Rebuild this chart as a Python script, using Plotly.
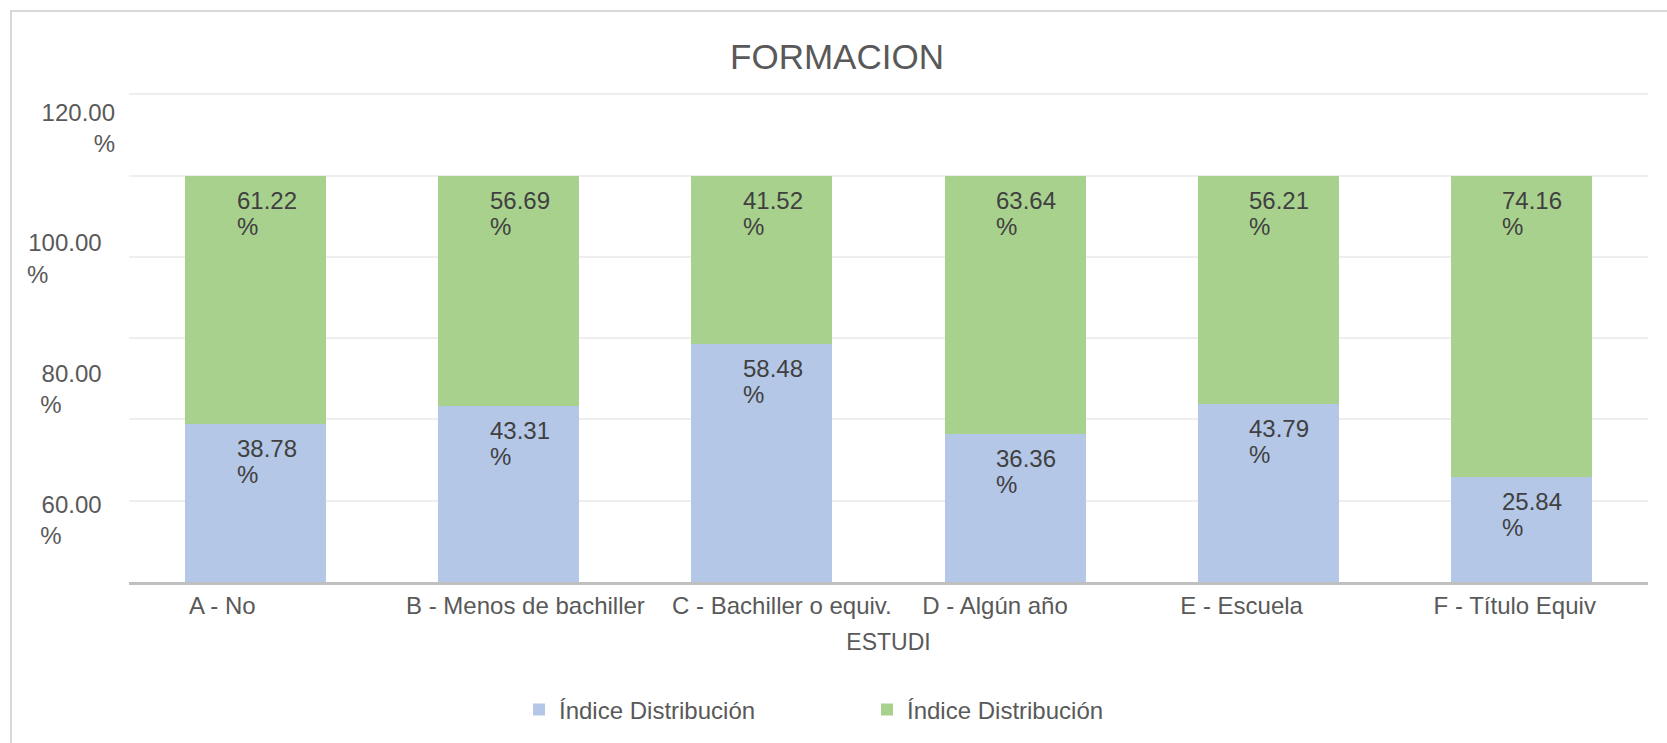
import plotly.graph_objects as go

categories = ["A - No", "B - Menos de bachiller", "C - Bachiller o equiv.",
              "D - Algún año", "E - Escuela", "F - Título Equiv"]
serie_azul = [38.78, 43.31, 58.48, 36.36, 43.79, 25.84]
serie_verde = [61.22, 56.69, 41.52, 63.64, 56.21, 74.16]
series_names = ["Índice Distribución", "Índice Distribución"]
y_tick_values = [60, 80, 100, 120]
y_tick_labels = ["60.00 %", "80.00 %", "100.00 %", "120.00 %"]
grid_values = [0, 20, 40, 60, 80, 100, 120]

NB = "\u00a0"
# label padding (non-breaking spaces) to mimic the original label placement
pad_before = [0, 5, 6, 0, 0, 0]
pad_after = [10, 0, 0, 6, 8, 2]
tick_text = [NB * b + c + NB * a for c, b, a in zip(categories, pad_before, pad_after)]

# y labels: number on first line, "%" on second line (left aligned except the top one)
y_num_pad = [2, 2, 2, 0]
y_pct_pad = [8, 8, 10, 0]
y_tick_text = []
for lab, npad, ppad in zip(y_tick_labels, y_num_pad, y_pct_pad):
    num, pct = lab.split(" ")
    y_tick_text.append(num + NB * npad + "<br>" + pct + NB * ppad)

BLUE = "#b4c7e7"
GREEN = "#a9d18e"
TXT = "#595959"
LBL = "#404040"
FONT = "Liberation Sans, Arial, sans-serif"

fig = go.Figure()
fig.add_trace(go.Bar(x=categories, y=serie_azul, name=series_names[0],
                     marker=dict(color=BLUE, line=dict(width=0))))
fig.add_trace(go.Bar(x=categories, y=serie_verde, name=series_names[1],
                     marker=dict(color=GREEN, line=dict(width=0))))
# carrier for the secondary (label) axis, draws nothing
fig.add_trace(go.Scatter(x=[categories[0]], y=[None], yaxis="y2", mode="markers",
                         showlegend=False, hoverinfo="skip"))

annotations = []
for i, cat in enumerate(categories):
    bases = [0, serie_azul[i]]
    vals = [serie_azul[i], serie_verde[i]]
    for b, v in zip(bases, vals):
        top = b + v
        annotations.append(dict(x=cat, y=top, xref="x", yref="y", text=f"{v:.2f}",
                                showarrow=False, xanchor="left", yanchor="top",
                                xshift=-21, yshift=-9,
                                font=dict(family=FONT, size=24, color=LBL)))
        annotations.append(dict(x=cat, y=top, xref="x", yref="y", text="%",
                                showarrow=False, xanchor="left", yanchor="top",
                                xshift=-21, yshift=-35,
                                font=dict(family=FONT, size=24, color=LBL)))

fig.update_layout(
    width=1667, height=743,
    paper_bgcolor="white", plot_bgcolor="white",
    barmode="stack", bargap=0.443,
    margin=dict(l=129, r=19, t=92, b=161, autoexpand=False),
    title=dict(text="FORMACION", x=837 / 1667, xref="container", xanchor="center",
               y=1 - 57 / 743, yref="container", yanchor="middle",
               font=dict(family=FONT, size=35, color=TXT)),
    xaxis=dict(showline=True, linecolor="#bfbfbf", linewidth=2.5, showgrid=False,
               ticks="", tickvals=categories, ticktext=tick_text, tickangle=0,
               tickfont=dict(family=FONT, size=24, color=TXT),
               title=dict(text="ESTUDI", font=dict(family=FONT, size=23, color=TXT), standoff=17)),
    yaxis=dict(range=[0, 120.6], showgrid=True, gridcolor="#eeeeee", gridwidth=1.5,
               tickvals=grid_values, showticklabels=False,
               zeroline=False, showline=False, ticks=""),
    yaxis2=dict(overlaying="y", anchor="x", side="left", range=[50.5, 125.5],
                tickvals=y_tick_values, ticktext=y_tick_text, showgrid=False,
                zeroline=False, showline=False, ticks="", ticklabelstandoff=13,
                tickfont=dict(family=FONT, size=24, color=TXT)),
    legend=dict(orientation="h", xref="container", yref="container",
                x=519 / 1667, xanchor="left", y=1 - 710 / 743, yanchor="middle",
                entrywidth=303, entrywidthmode="pixels", itemsizing="constant",
                font=dict(family=FONT, size=24, color=TXT), traceorder="normal"),
    annotations=annotations,
    shapes=[dict(type="rect", xref="paper", yref="paper",
                 x0=(11 - 129) / 1519, x1=1.05, y0=-0.5, y1=(582 - 11) / 490,
                 line=dict(color="#d9d9d9", width=2), fillcolor="rgba(0,0,0,0)")],
)

fig.write_html("out.html", config={"displayModeBar": False},
               post_script="document.body.style.margin='0px';")
